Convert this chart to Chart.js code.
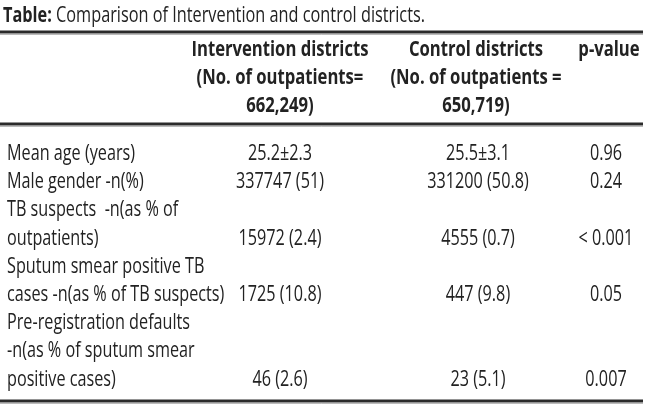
<!DOCTYPE html>
<html lang="en">
<head>
<meta charset="UTF-8">
<title>Comparison of Intervention and control districts</title>
<script src="https://cdn.jsdelivr.net/npm/chart.js"></script>
<style>
    * { margin: 0; padding: 0; box-sizing: border-box; }
    body { background: #ffffff; width: 650px; height: 416px; overflow: hidden; }
    #wrap { width: 650px; height: 416px; }
</style>
</head>
<body>
<div id="wrap"><canvas id="tableChart" width="650" height="416"></canvas></div>
<script>
    // table content
    const titleBold = 'Table:';
    const titleText = ' Comparison of Intervention and control districts.';
    const headerLines = [
        ['Intervention districts', 'Control districts', 'p-value'],
        ['(No. of outpatients=', '(No. of outpatients =', ''],
        ['662,249)', '650,719)', '']
    ];
    const rowLabels = [
        ['Mean age (years)'],
        ['Male gender -n(%)'],
        ['TB suspects  -n(as % of', 'outpatients)'],
        ['Sputum smear positive TB', 'cases -n(as % of TB suspects)'],
        ['Pre-registration defaults', '-n(as % of sputum smear', 'positive cases)']
    ];
    const intervention = ['25.2\u00b12.3', '337747 (51)', '15972 (2.4)', '1725 (10.8)', '46 (2.6)'];
    const control = ['25.5\u00b13.1', '331200 (50.8)', '4555 (0.7)', '447 (9.8)', '23 (5.1)'];
    const pValues = ['0.96', '0.24', '< 0.001', '0.05', '0.007'];

    // layout (in table units, mapped through the chart scales)
    const layout = {
        labelX: 7,
        colX: [280, 478, 606],
        headColX: [280, 476, 609],
        titleX: 3,
        titleY: 22,
        headerY: 56, headerStep: 28,
        bodyY: 160, bodyStep: 28.2,
        rules: [32, 124, 401],
        ruleEnd: 643,
        font: "'Open Sans', 'Noto Sans', sans-serif",
        size: 21,
        headSize: 22,
        titleSize: 22,
        // widths the reference text occupies, used to condense the font
        bodyFit: ['Mean age (years)', 128],
        headFit: ['Intervention districts', 177],
        titleFit: 422,
        ink: '#222222'
    };

    function fitScale(ctx, font, pair) {
        ctx.font = font;
        return pair[1] / ctx.measureText(pair[0]).width;
    }

    function drawText(ctx, text, x, y, sx, align) {
        ctx.save();
        ctx.translate(x, y);
        ctx.scale(sx, 1);
        ctx.textAlign = align;
        ctx.fillText(text, 0, 0);
        ctx.restore();
    }

    const tablePlugin = {
        id: 'tablePlugin',
        afterDraw(chart) {
            const ctx = chart.ctx;
            const xs = chart.scales.x, ys = chart.scales.y;
            const px = v => xs.getPixelForValue(v);
            const py = v => ys.getPixelForValue(v);
            const bodyFont = '500 ' + layout.size + 'px ' + layout.font;
            const headFont = 'bold ' + layout.headSize + 'px ' + layout.font;
            const tBold = 'bold ' + layout.titleSize + 'px ' + layout.font;
            const tReg = '500 ' + layout.titleSize + 'px ' + layout.font;

            ctx.save();
            ctx.fillStyle = layout.ink;
            ctx.textBaseline = 'alphabetic';

            // title: bold lead + regular text, condensed together
            ctx.font = tBold;
            const wb = ctx.measureText(titleBold).width;
            ctx.font = tReg;
            const wr = ctx.measureText(titleText).width;
            const ts = layout.titleFit / (wb + wr);
            ctx.font = tBold;
            drawText(ctx, titleBold, px(layout.titleX), py(layout.titleY), ts, 'left');
            ctx.font = tReg;
            drawText(ctx, titleText, px(layout.titleX) + wb * ts, py(layout.titleY), ts, 'left');

            // rules
            layout.rules.forEach(r => {
                ctx.strokeStyle = '#2b2b2b';
                ctx.lineWidth = 3;
                ctx.beginPath();
                ctx.moveTo(px(0), py(r));
                ctx.lineTo(px(layout.ruleEnd), py(r));
                ctx.stroke();
                ctx.strokeStyle = 'rgba(120,120,120,0.5)';
                ctx.lineWidth = 1;
                ctx.beginPath();
                ctx.moveTo(px(0), py(r) + 2.5);
                ctx.lineTo(px(layout.ruleEnd), py(r) + 2.5);
                ctx.stroke();
            });

            // header
            const hs = fitScale(ctx, headFont, layout.headFit);
            headerLines.forEach((line, i) => {
                line.forEach((txt, c) => {
                    if (!txt) return;
                    drawText(ctx, txt, px(layout.headColX[c]), py(layout.headerY + i * layout.headerStep), hs, 'center');
                });
            });

            // body
            const bs = fitScale(ctx, bodyFont, layout.bodyFit);
            let line = 0;
            rowLabels.forEach((lbl, r) => {
                lbl.forEach((txt, k) => {
                    drawText(ctx, txt, px(layout.labelX), py(layout.bodyY + (line + k) * layout.bodyStep), bs, 'left');
                });
                const yv = py(layout.bodyY + (line + lbl.length - 1) * layout.bodyStep);
                [intervention, control, pValues].forEach((col, c) => {
                    drawText(ctx, col[r], px(layout.colX[c]), yv, bs, 'center');
                });
                line += lbl.length;
            });
            ctx.restore();
        }
    };

    new Chart(document.getElementById('tableChart'), {
        type: 'scatter',
        data: { datasets: [] },
        options: {
            responsive: false,
            animation: false,
            layout: { padding: 0 },
            plugins: { legend: { display: false }, tooltip: { enabled: false } },
            scales: {
                x: { type: 'linear', min: 0, max: 650, display: false },
                y: { type: 'linear', min: 0, max: 416, reverse: true, display: false }
            }
        },
        plugins: [tablePlugin]
    });
</script>
</body>
</html>
